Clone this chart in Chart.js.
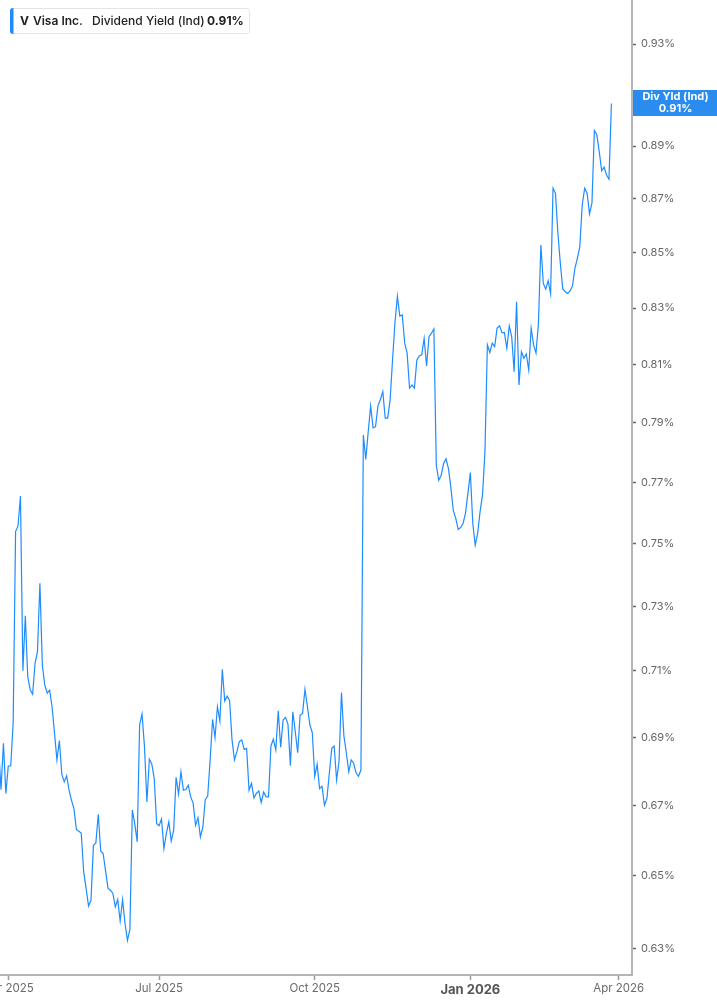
<!DOCTYPE html>
<html><head><meta charset="utf-8">
<script src="https://cdn.jsdelivr.net/npm/chart.js@4.4.1/dist/chart.umd.min.js"></script>
<style>html,body{margin:0;padding:0;background:#fff;} #wrap{width:717px;height:1005px;position:relative;}</style>
</head><body><div id="wrap"><canvas id="c"></canvas></div>
<script>
// Dividend yield (indicated), % — one value per trading day
const yieldMarJun2025 = [
0.6872,0.6746,0.6882,0.6735,0.6815,0.6815,0.6942,0.7539,0.7557,0.7655,
0.7100,0.7270,0.7082,0.7042,0.7029,0.7123,0.7159,0.7373,0.7118,0.7057,
0.7032,0.7041,0.6991,0.6912,0.6833,0.6890,0.6791,0.6769,0.6786,0.6744,
0.6715,0.6691,0.6631,0.6626,0.6621,0.6511,0.6465,0.6416,0.6432,0.6586,
0.6593,0.6675,0.6570,0.6563,0.6514,0.6465,0.6460,0.6451,0.6414,0.6434,
0.6375,0.6434,0.6368,0.6322,0.6352,0.6687,0.6648,0.6596,0.6937,0.6969,
0.6872,0.6710,0.6835,0.6821,0.6779,0.6648];
const yieldJulSep2025 = [
0.6642,0.6661,0.6577,0.6620,0.6653,0.6598,0.6629,0.6782,0.6733,0.6798,
0.6744,0.6746,0.6759,0.6725,0.6707,0.6643,0.6665,0.6610,0.6638,0.6717,
0.6727,0.6833,0.6953,0.6899,0.6991,0.6948,0.7105,0.7008,0.7023,0.7009,
0.6892,0.6833,0.6857,0.6887,0.6892,0.6864,0.6867,0.6744,0.6764,0.6722,
0.6735,0.6742,0.6709,0.6739,0.6725,0.6725,0.6874,0.6894,0.6862,0.6979,
0.6870,0.6951,0.6959,0.6939,0.6816,0.6976,0.6917,0.6854,0.6966,0.6971,
0.7044,0.6991,0.6937,0.6914];
const yieldOctDec2025 = [
0.6785,0.6820,0.6749,0.6756,0.6701,0.6720,0.6793,0.6867,0.6874,0.6774,
0.6828,0.7034,0.6904,0.6854,0.6798,0.6833,0.6823,0.6795,0.6785,0.6803,
0.7859,0.7777,0.7870,0.7958,0.7883,0.7887,0.7958,0.7980,0.8007,0.7916,
0.7916,0.7978,0.8117,0.8249,0.8343,0.8272,0.8276,0.8176,0.8141,0.8019,
0.8030,0.8019,0.8117,0.8131,0.8135,0.8193,0.8096,0.8199,0.8211,0.8226,
0.7757,0.7707,0.7724,0.7763,0.7779,0.7746,0.7682,0.7607,0.7582,0.7546,
0.7552,0.7565,0.7599,0.7664];
const yieldJanMar2026 = [
0.7733,0.7565,0.7495,0.7533,0.7604,0.7659,0.7802,0.8170,0.8143,0.8176,
0.8164,0.8229,0.8237,0.8213,0.8213,0.8158,0.8237,0.8199,0.8076,0.8323,
0.8030,0.8146,0.8123,0.8138,0.8082,0.8229,0.8170,0.8141,0.8247,0.8529,
0.8389,0.8368,0.8399,0.8351,0.8740,0.8721,0.8572,0.8462,0.8369,0.8359,
0.8353,0.8362,0.8380,0.8444,0.8480,0.8522,0.8677,0.8740,0.8721,0.8644,
0.8684,0.8960,0.8944,0.8879,0.8806,0.8820,0.8790,0.8774,0.9065];

// x-axis: trading-day index of each month label
const xTickIndex  = [4, 66, 130, 194, 255];
const xTickLabels = ['Apr 2025','Jul 2025','Oct 2025','Jan 2026','Apr 2026'];
const yTickValues = [0.63,0.65,0.67,0.69,0.71,0.73,0.75,0.77,0.79,0.81,0.83,0.85,0.87,0.89,0.91,0.93];

const ticker = 'V';
const company = 'Visa Inc.';
const seriesName = 'Dividend Yield (Ind)';
const shortName = 'Div Yld (Ind)';

const allValues = [].concat(yieldMarJun2025, yieldJulSep2025, yieldOctDec2025, yieldJanMar2026);
const points = allValues.map((v, i) => ({x: i, y: v}));
const lastVal = allValues[allValues.length - 1];

const BLUE = '#1e8cff';
const FONT = 'Inter, "Noto Sans", sans-serif';

const overlay = {
  id: 'overlay',
  afterDraw(chart) {
    const ctx = chart.ctx;
    const ca = chart.chartArea;
    const ys = chart.scales.y;
    const py = ys.getPixelForValue(lastVal);
    ctx.save();
    // last-value tag on right axis
    ctx.fillStyle = '#2b8cf0';
    ctx.fillRect(ca.right + 1, Math.round(py) - 13, chart.width - ca.right - 1, 26);
    ctx.fillStyle = '#ffffff';
    ctx.font = '700 11px ' + FONT;
    ctx.textAlign = 'center';
    ctx.textBaseline = 'middle';
    const cx = ca.right + (chart.width - ca.right) / 2 + 1;
    ctx.fillText(shortName, cx, Math.round(py) - 6);
    ctx.fillText(lastVal.toFixed(2) + '%', cx, Math.round(py) + 6);

    // legend box
    const bx = 10.5, by = 8.5, bw = 239, bh = 25;
    ctx.beginPath();
    ctx.roundRect(bx, by, bw, bh, 3);
    ctx.fillStyle = '#ffffff';
    ctx.fill();
    ctx.strokeStyle = '#e4e4e4';
    ctx.lineWidth = 1;
    ctx.stroke();
    ctx.beginPath();
    ctx.roundRect(10, 8, 3.5, 26, [3, 0, 0, 3]);
    ctx.fillStyle = BLUE;
    ctx.fill();
    ctx.textAlign = 'left';
    ctx.textBaseline = 'alphabetic';
    ctx.fillStyle = '#222';
    ctx.font = '700 12px ' + FONT;
    ctx.fillText(ticker, 20, 25);
    ctx.font = '600 12px ' + FONT;
    ctx.fillText(company, 33, 25);
    ctx.font = '500 12px ' + FONT;
    ctx.fillText(seriesName, 92, 25);
    ctx.font = '700 12px ' + FONT;
    ctx.fillText(lastVal.toFixed(2) + '%', 207, 25);
    ctx.restore();
  }
};

new Chart(document.getElementById('c'), {
  type: 'line',
  data: {
    datasets: [{
      data: points,
      borderColor: BLUE,
      borderWidth: 1.2,
      pointRadius: 0,
      tension: 0,
      fill: false
    }]
  },
  options: {
    responsive: true,
    maintainAspectRatio: false,
    animation: false,
    layout: { padding: 0 },
    plugins: { legend: { display: false }, tooltip: { enabled: false } },
    scales: {
      x: {
        type: 'linear',
        position: 'bottom',
        bounds: 'data',
        min: 0.588,
        max: 260.47,
        afterBuildTicks(s) { s.ticks = xTickIndex.map(v => ({value: v})); },
        afterFit(s) { s.height = 30; s.paddingLeft = 0; s.paddingRight = 0; },
        grid: { drawOnChartArea: false, drawTicks: true, tickLength: 5, tickColor: '#9a9a9a', tickWidth: 1.5 },
        border: { display: true, color: '#b5b5b5', width: 2 },
        ticks: {
          autoSkip: false,
          maxRotation: 0,
          padding: 2,
          callback(v) { const k = xTickIndex.indexOf(v); return k >= 0 ? xTickLabels[k] : ''; },
          color(c) { return c.tick && c.tick.value === 194 ? '#555' : '#6b6b6b'; },
          font(c) {
            return (c.tick && c.tick.value === 194)
              ? { family: FONT, size: 13, weight: '700' }
              : { family: FONT, size: 11.5, weight: '400' };
          }
        }
      },
      y: {
        type: 'logarithmic',
        position: 'right',
        bounds: 'data',
        min: 0.62284,
        max: 0.94779,
        afterBuildTicks(s) { s.ticks = yTickValues.map(v => ({value: v})); },
        afterFit(s) { s.width = 85; s.paddingTop = 0; s.paddingBottom = 0; },
        grid: { drawOnChartArea: false, drawTicks: true, tickLength: 4, tickColor: '#666', tickWidth: 1.5 },
        border: { display: true, color: '#b5b5b5', width: 2 },
        ticks: {
          padding: 5,
          color: '#666',
          font: { family: FONT, size: 11 },
          callback(v) { return Number(v).toFixed(2) + '%'; }
        }
      }
    }
  },
  plugins: [overlay]
});
</script>
</body></html>
